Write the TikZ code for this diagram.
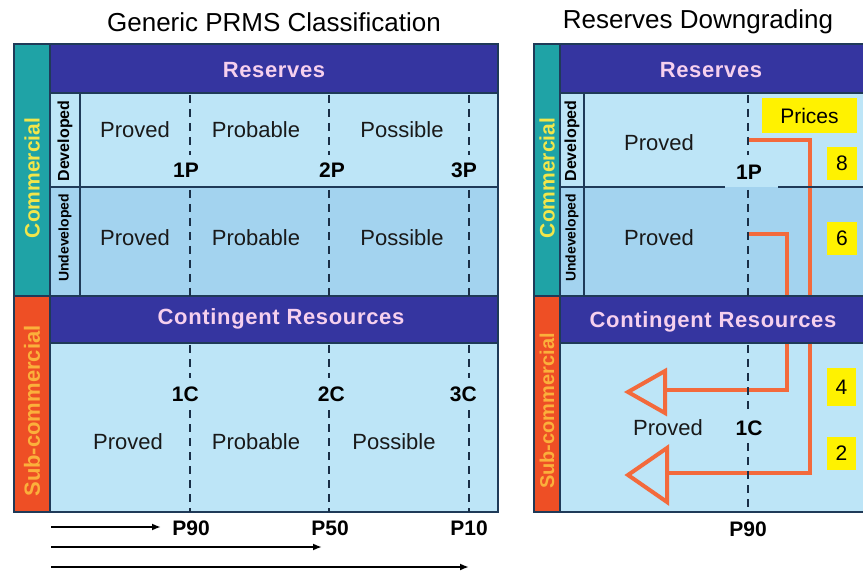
\documentclass[tikz,border=0pt]{standalone}
\usepackage{fontspec}
\setmainfont{Liberation Sans}
\usetikzlibrary{arrows.meta}
\definecolor{hdrblue}{HTML}{3535A0}
\definecolor{hdrtext}{HTML}{F6D0EE}
\definecolor{tealstrip}{HTML}{1FA3A6}
\definecolor{redstrip}{HTML}{EE4F25}
\definecolor{comtext}{HTML}{F2E64A}
\definecolor{subtext}{HTML}{FBB03B}
\definecolor{devfill}{HTML}{BDE5F7}
\definecolor{undevfill}{HTML}{A3D3EF}
\definecolor{gridline}{HTML}{1F3A58}
\definecolor{downline}{HTML}{F36A3C}
\definecolor{pricebox}{HTML}{FFF200}

\begin{document}
\begin{tikzpicture}[x=1pt,y=-1pt,
  gridln/.style={draw=gridline,line width=1.4pt},
  cutln/.style={draw=gridline!80!black,line width=2.4pt,dash pattern=on 8pt off 6pt},
  hdr/.style={text=hdrtext,font=\fontsize{22}{24}\selectfont\bfseries\addfontfeatures{LetterSpace=3}},
  cell/.style={text=black!90,font=\fontsize{22}{24}\selectfont},
  cutlbl/.style={text=black,inner sep=1pt,font=\fontsize{21}{24}\selectfont\bfseries},
  vlbl/.style={rotate=90,inner sep=0pt,font=\fontsize{#1}{#1}\selectfont\bfseries},
  ybox/.style={fill=pricebox,inner sep=0pt,font=\fontsize{21}{24}\selectfont},
  downgr/.style={draw=downline,line width=4pt,line join=miter}]
\fill[white] (0,0) rectangle (863,572);
\useasboundingbox (0,0) rectangle (863,572);
\clip (0,0) rectangle (863,572);

% titles
\node[font=\fontsize{26}{30}\selectfont] (titleL) at (274,22) {Generic PRMS Classification};
\node[font=\fontsize{26}{30}\selectfont] (titleR) at (698,22) {Reserves Downgrading};

% generic classification panel
\fill[devfill] (50,93) rectangle (498,187);
\fill[undevfill] (50,187) rectangle (498,296);
\fill[devfill] (50,343) rectangle (498,512);
\fill[hdrblue] (50,44) rectangle (498,93);
\fill[hdrblue] (50,296) rectangle (498,343);
\fill[tealstrip] (14,44) rectangle (50,296);
\fill[redstrip] (14,296) rectangle (50,512);
\draw[gridln] (14,44) rectangle (498,512);
\draw[gridln] (50,44) -- (50,512) (50,187) -- (498,187) (80,93) -- (80,296)
  (14,296) -- (498,296) (50,93) -- (498,93) (50,343) -- (498,343);
\foreach \x in {190,329,469}{
  \draw[cutln] (\x,95) -- (\x,155);
  \draw[cutln] (\x,190) -- (\x,296);
  \draw[cutln] (\x,345) -- (\x,378);
  \draw[cutln] (\x,410) -- (\x,512);
}
\node[hdr] (resL) at (274,70) {Reserves};
\node[hdr] (contL) at (281,319) {Contingent Resources};
\node[vlbl=21,text=comtext] (comL) at (32,178) {Commercial};
\node[vlbl=22,text=subtext] (subL) at (32,411) {Sub-commercial};
\node[vlbl=16] (devL) at (65,141) {Developed};
\node[vlbl=14] (undevL) at (65,238) {Undeveloped};
\node[cell] (dprovL) at (135,130) {Proved};
\node[cell] (dprobL) at (256,130) {Probable};
\node[cell] (dpossL) at (402,130) {Possible};
\node[cell] (uprovL) at (135,238) {Proved};
\node[cell] (uprobL) at (256,238) {Probable};
\node[cell] (upossL) at (402,238) {Possible};
\node[cell] (cprovL) at (128,442) {Proved};
\node[cell] (cprobL) at (256,442) {Probable};
\node[cell] (cpossL) at (394,442) {Possible};
\node[cutlbl,anchor=east] (p1L) at (200,170) {1P};
\node[cutlbl,anchor=east] (p2L) at (346,170) {2P};
\node[cutlbl,anchor=east] (p3L) at (478,170) {3P};
\node[cutlbl,anchor=east] (c1L) at (200,394) {1C};
\node[cutlbl,anchor=east] (c2L) at (346,394) {2C};
\node[cutlbl,anchor=east] (c3L) at (478,394) {3C};
\node[cutlbl] (p90L) at (191,528) {P90};
\node[cutlbl] (p50L) at (330,528) {P50};
\node[cutlbl] (p10L) at (469,528) {P10};
\coordinate (a1) at (51,527);
\coordinate (a2) at (51,547);
\coordinate (a3) at (51,567);
\coordinate (e1) at (161,527);
\coordinate (e2) at (322,547);
\coordinate (e3) at (469,567);
\draw[-{Latex[length=9pt,width=7pt]},line width=2.6pt] (a1) -- (e1);
\draw[-{Latex[length=9pt,width=7pt]},line width=2.6pt] (a2) -- (e2);
\draw[-{Latex[length=9pt,width=7pt]},line width=2.6pt] (a3) -- (e3);

% downgrading panel
\fill[devfill] (560,93) rectangle (863,187);
\fill[undevfill] (560,187) rectangle (863,296);
\fill[devfill] (560,343) rectangle (863,512);
\coordinate (o1) at (748,140);
\coordinate (o2) at (810,140);
\coordinate (o3) at (810,473);
\coordinate (o4) at (667,473);
\coordinate (i1) at (748,234);
\coordinate (i2) at (787,234);
\coordinate (i3) at (787,390);
\coordinate (i4) at (665,390);
\draw[downgr] (o1) -- (o2) -- (o3) -- (o4);
\draw[downgr] (i1) -- (i2) -- (i3) -- (i4);
\draw[downgr,fill=devfill] (628,475) -- (667,448) -- (667,502) -- cycle;
\draw[downgr,fill=devfill] (628,392) -- (665,371) -- (665,413) -- cycle;
\fill[hdrblue] (560,44) rectangle (863,93);
\fill[hdrblue] (560,296) rectangle (863,343);
\fill[tealstrip] (534,44) rectangle (560,296);
\fill[redstrip] (534,296) rectangle (560,512);
\draw[gridln] (534,44) rectangle (866,512);
\draw[gridln] (560,44) -- (560,512) (584,93) -- (584,296) (534,296) -- (863,296)
  (560,93) -- (863,93) (560,343) -- (863,343)
  (560,187) -- (725,187) (778,187) -- (863,187);
\draw[cutln] (748,95) -- (748,155);
\draw[cutln] (748,190) -- (748,296);
\draw[cutln] (748,345) -- (748,414);
\draw[cutln] (748,443) -- (748,512);
\node[hdr] (resR) at (711,70) {Reserves};
\node[hdr] (contR) at (713,322) {Contingent Resources};
\node[vlbl=21,text=comtext] (comR) at (547,178) {Commercial};
\node[vlbl=20,text=subtext] (subR) at (547,411) {Sub-commercial};
\node[vlbl=16] (devR) at (572,141) {Developed};
\node[vlbl=14] (undevR) at (572,238) {Undeveloped};
\node[cell] (dprovR) at (659,143) {Proved};
\node[cell] (uprovR) at (659,238) {Proved};
\node[cell] (cprovR) at (668,428) {Proved};
\node[cutlbl] (p1R) at (749,172) {1P};
\node[cutlbl] (c1R) at (749,428) {1C};
\node[cutlbl] (p90R) at (748,529) {P90};
\node[ybox,minimum width=95pt,minimum height=35pt] (prices) at (809.5,115.5) {Prices};
\node[ybox,minimum width=30pt,minimum height=33pt] (n8) at (842,163.5) {8};
\node[ybox,minimum width=30pt,minimum height=33pt] (n6) at (842,238.5) {6};
\node[ybox,minimum width=29pt,minimum height=38pt] (n4) at (841.5,387) {4};
\node[ybox,minimum width=29pt,minimum height=33pt] (n2) at (841.5,453.5) {2};
\end{tikzpicture}
\end{document}
